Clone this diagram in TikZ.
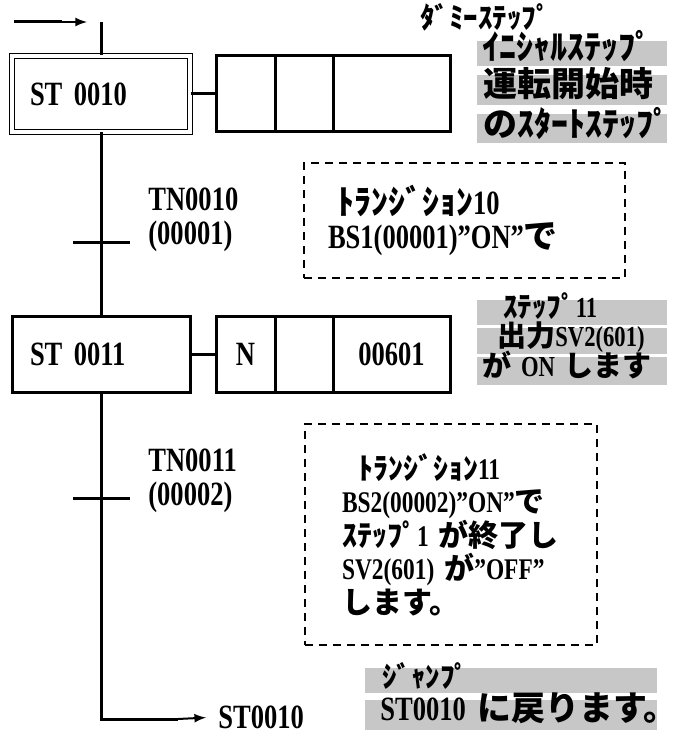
\documentclass[tikz,border=0pt]{standalone}
\usepackage{fontspec}
\setmainfont{Liberation Serif}[FakeStretch=0.78]
\newfontfamily\jpfam{Noto Sans CJK JP}
\newcommand\jp{\jpfam\bfseries}
\tikzset{
	txt/.style={font=\fontsize{17}{17}\selectfont\bfseries},
	small/.style={font=\fontsize{14.5}{14.5}\selectfont\bfseries},
	lbl/.style={txt, inner sep=0pt},
	line/.style={line width=1.5pt},
	stepbox/.style={txt, draw, line width=1.5pt, minimum height=38pt, text width=71pt, inner xsep=9pt, inner ysep=0pt, align=left},
	initbox/.style={stepbox, line width=0.5pt, double, double distance=1.6pt},
	actbox/.style={txt, draw, line width=1.5pt, minimum height=38pt, inner sep=0pt},
	tick/.style={fill, minimum width=28.5pt, minimum height=1.5pt, inner sep=0pt},
	note/.style={txt, fill=black!22, anchor=west, inner sep=0pt, align=left, text height=9.5pt, text depth=3pt},
	dashbox/.style={txt, draw, line width=0.8pt, dash pattern=on 4pt off 3pt, align=left, inner ysep=0pt}
}
\begin{document}
\begin{tikzpicture}[x=0.5pt, y=-0.5pt]
	\useasboundingbox (0,0) rectangle (679,733);
	\coordinate (in0) at (14,22);
	\coordinate (in1) at (62,22);
	\coordinate (in2) at (87,22);
	\coordinate (stub) at (101,22);
	\draw[line] (in0) -- (in1);
	\draw[line width=1pt, -latex] (in1) -- (in2);
	\node[lbl, small, anchor=west] (dummy) at (420,17) {\jp ﾀﾞﾐｰｽﾃｯﾌﾟ};

	\node[initbox] (st10) at (101,94) {ST 0010};
	\node[actbox, minimum width=29.5pt] (a10n) at (245.5,94) {};
	\node[actbox, minimum width=29pt] (a10q) at (304,94) {};
	\node[actbox, minimum width=58.5pt] (a10v) at (391.5,94) {};
	\node[note, text width=95pt] (n1) at (477,53.5) {\hspace*{2.5pt}{\jp ｲﾆｼｬﾙｽﾃｯﾌﾟ}};
	\node[note, text width=95pt, text height=11pt, text depth=4pt] (n2) at (477,90) {\hspace*{3pt}{\jp 運転開始時}};
	\node[note, text width=95pt, text height=11pt, text depth=3.5pt] (n3) at (477,128.5) {\hspace*{3pt}{\jp のｽﾀｰﾄｽﾃｯﾌﾟ}};

	\node[tick] (t10) at (101,242) {};
	\node[lbl, anchor=west, align=left] (tn10) at (148,220) {TN0010\\(00001)};
	\node[dashbox, minimum height=57.5pt, text width=136.5pt, inner xsep=12pt] (tr10) at (464.5,220.5)
		{\hspace*{4.5pt}{\jp ﾄﾗﾝｼﾞｼｮﾝ}10\\BS1(00001)”ON”{\jp で}};

	\node[stepbox] (st11) at (101,354) {ST 0011};
	\node[actbox, minimum width=29.5pt] (a11n) at (245.5,354) {N};
	\node[actbox, minimum width=29pt] (a11q) at (304,354) {};
	\node[actbox, minimum width=58.5pt] (a11v) at (391.5,354) {00601};
	\node[note, small, text width=95pt, text height=8.5pt, text depth=4pt] (m1) at (477,312.5) {\hspace*{13pt}{\jp ｽﾃｯﾌﾟ}11};
	\node[note, small, text width=95pt, text height=9pt, text depth=4pt] (m2) at (477,341) {\hspace*{10pt}{\jp 出力}SV2(601)};
	\node[note, small, text width=95pt, text height=9.5pt, text depth=4.5pt] (m3) at (477,371) {\hspace*{2.5pt}{\jp が}~ON~{\jp します}};

	\node[tick] (t11) at (101,498) {};
	\node[lbl, anchor=west, align=left] (tn11) at (148,480.5) {TN0011\\(00002)};
	\node[dashbox, font=\fontsize{15}{16.75}\selectfont\bfseries, minimum height=110.5pt, text width=109pt, inner xsep=18.5pt] (tr11) at (451,534.5)
		{\hspace*{8pt}{\jp ﾄﾗﾝｼﾞｼｮﾝ}11\\BS2(00002)”ON”{\jp で}\\{\jp ｽﾃｯﾌﾟ}1~{\jp が終了し}\\SV2(601)~{\jp が}”OFF”\\{\jp します。}};

	\coordinate (jbend) at (178,719);
	\node[lbl, anchor=west] (jto) at (218,717) {ST0010};
	\node[note, small, text width=146pt] (b1) at (365,680.5) {\hspace*{8.5pt}{\jp ｼﾞｬﾝﾌﾟ}};
	\node[note, text width=146pt, text height=10.5pt, text depth=4.5pt] (b2) at (365,714.5) {\hspace*{7.5pt}ST0010~{\jp に戻ります。}};

	\draw[line] (stub) -- (st10.north);
	\draw[line] (st10.east) -- (a10n.west);
	\draw[line] (st10.south) -- (st11.north);
	\draw[line] (st11.east) -- (a11n.west);
	\draw[line] (st11.south) |- (jbend);
	\draw[line width=1pt, -latex, shorten >=6pt] (jbend) -- (jto.west);
\end{tikzpicture}
\end{document}
